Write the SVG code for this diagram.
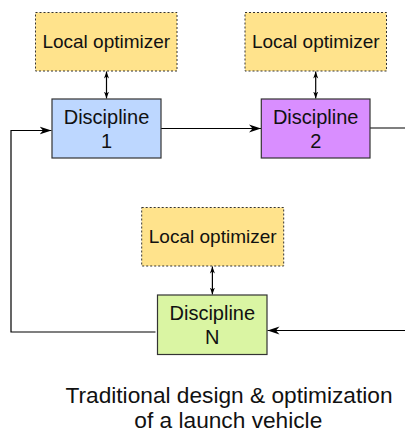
<svg xmlns="http://www.w3.org/2000/svg" width="405" height="433" viewBox="0 0 405 433">
<style>
.opt{fill:#FFE38C;stroke:#333;stroke-width:1;stroke-dasharray:2,2}
.disc{stroke:#333;stroke-width:1.2}
.t{font-family:"Liberation Sans",Arial,sans-serif;fill:#111;text-anchor:middle}
.lo{font-size:19px}
.dt{font-size:20px}
.cap{font-family:"Liberation Sans",Arial,sans-serif;font-size:22.7px;fill:#111;text-anchor:middle}
.c{fill:none;stroke:#000;stroke-width:1.2}
</style>
<defs>
<marker id="arr" markerUnits="userSpaceOnUse" markerWidth="14" markerHeight="10" refX="12" refY="5" orient="auto">
<path d="M0,1 L12,5 L0,9 L3.5,5 z" fill="#000"/>
</marker>
<marker id="sm" markerUnits="userSpaceOnUse" markerWidth="8" markerHeight="6" refX="7" refY="3" orient="auto-start-reverse">
<path d="M0,0.5 L7,3 L0,5.5 L2,3 z" fill="#000"/>
</marker>
</defs>
<g id="connectors">
<line class="c" x1="106.5" y1="71.5" x2="106.5" y2="98.5" marker-start="url(#sm)" marker-end="url(#sm)"/>
<line class="c" x1="315.7" y1="71.5" x2="315.7" y2="98.5" marker-start="url(#sm)" marker-end="url(#sm)"/>
<line class="c" x1="212.4" y1="266.5" x2="212.4" y2="294.5" marker-start="url(#sm)" marker-end="url(#sm)"/>
<line class="c" x1="161" y1="128.5" x2="261" y2="128.5" marker-end="url(#arr)"/>
<line class="c" x1="370" y1="128" x2="405" y2="128"/>
<line class="c" x1="405" y1="330.5" x2="267.5" y2="330.5" marker-end="url(#arr)"/>
<polyline class="c" points="155.5,332 11,332 11,130.5 51.5,130.5" marker-end="url(#arr)"/>
</g>
<g id="opt1">
<rect class="opt" x="35.5" y="12.5" width="141.5" height="58.5"/>
<text class="t lo" x="106.3" y="47.5">Local optimizer</text>
</g>
<g id="opt2">
<rect class="opt" x="245" y="12.5" width="141.5" height="58.5"/>
<text class="t lo" x="315.8" y="47.5">Local optimizer</text>
</g>
<g id="opt3">
<rect class="opt" x="141.7" y="207.5" width="142" height="58.5"/>
<text class="t lo" x="212.7" y="242.5">Local optimizer</text>
</g>
<g id="disc1">
<rect class="disc" x="52" y="99" width="109" height="59" fill="#BDD7FF"/>
<text class="t dt" x="106.5" y="123.5">Discipline</text>
<text class="t dt" x="106.5" y="148">1</text>
</g>
<g id="disc2">
<rect class="disc" x="261.3" y="99" width="108.7" height="59" fill="#D98EFF"/>
<text class="t dt" x="315.7" y="123.5">Discipline</text>
<text class="t dt" x="315.7" y="148">2</text>
</g>
<g id="discN">
<rect class="disc" x="157.5" y="295" width="109.5" height="59.5" fill="#DAF5A3"/>
<text class="t dt" x="212.3" y="319.5">Discipline</text>
<text class="t dt" x="212.3" y="344">N</text>
</g>
<g id="caption">
<text class="cap" x="229" y="403.3">Traditional design &amp; optimization</text>
<text class="cap" x="228.3" y="428.3">of a launch vehicle</text>
</g>
</svg>
